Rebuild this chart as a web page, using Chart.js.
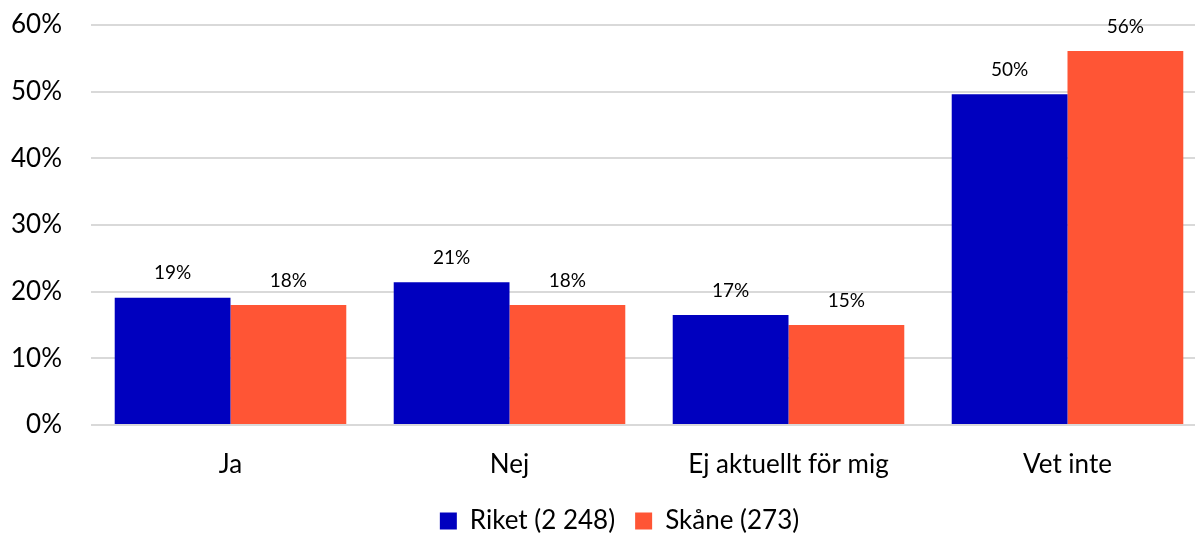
<!DOCTYPE html>
<html>
<head>
<meta charset="utf-8">
<script src="https://cdn.jsdelivr.net/npm/chart.js@4/dist/chart.umd.min.js"></script>
<style>
    html, body { margin: 0; padding: 0; background: #fff; }
    #wrap { width: 1195px; height: 535px; }
</style>
</head>
<body>
<div id="wrap"><canvas id="chart" width="1195" height="535"></canvas></div>
<script>
// Data
const categories = ['Ja', 'Nej', 'Ej aktuellt för mig', 'Vet inte'];
const riketValues = [19.1, 21.4, 16.5, 49.6];
const skaneValues = [18.0, 18.0, 15.0, 56.1];
const seriesNames = ['Riket (2 248)', 'Skåne (273)'];
const yTicks = [0, 10, 20, 30, 40, 50, 60];

const FONT = 'Lato, "Open Sans", sans-serif';

// Value labels above each bar
const barLabels = {
    id: 'barLabels',
    afterDatasetsDraw(chart) {
        const ctx = chart.ctx;
        ctx.save();
        ctx.font = '19px ' + FONT;
        ctx.fillStyle = '#000';
        ctx.textAlign = 'center';
        ctx.textBaseline = 'bottom';
        chart.data.datasets.forEach((ds, i) => {
            chart.getDatasetMeta(i).data.forEach((bar, j) => {
                ctx.fillText(Math.round(ds.data[j]) + '%', bar.x, bar.y - 15);
            });
        });
        ctx.restore();
    }
};

// Layout tweaks: legend a bit right/down, and the category axis
// runs slightly past the right edge like the cropped original
const layoutTweaks = {
    id: 'layoutTweaks',
    afterLayout(chart) {
        const lg = chart.legend;
        if (lg) {
            lg.left += 22;
            lg.right += 22;
            lg.top += 9;
            lg.bottom += 9;
        }
        const x = chart.scales.x;
        x.right += 12;
        x.width = x.right - x.left;
        x.configure();
    }
};

new Chart(document.getElementById('chart'), {
    type: 'bar',
    data: {
        labels: categories,
        datasets: [
            {
                label: seriesNames[0],
                data: riketValues,
                backgroundColor: '#0000BF',
                borderWidth: 0,
                categoryPercentage: 0.83,
                barPercentage: 1
            },
            {
                label: seriesNames[1],
                data: skaneValues,
                backgroundColor: '#FF5535',
                borderWidth: 0,
                categoryPercentage: 0.83,
                barPercentage: 1
            }
        ]
    },
    options: {
        responsive: false,
        animation: false,
        layout: { padding: { top: 25, left: 0, right: 0, bottom: 0 } },
        plugins: {
            tooltip: { enabled: false },
            legend: {
                position: 'bottom',
                labels: {
                    font: { family: FONT, size: 26 },
                    color: '#000',
                    boxWidth: 17,
                    boxHeight: 17,
                    padding: 20
                }
            }
        },
        scales: {
            x: {
                grid: { display: false, drawTicks: false },
                border: { display: false },
                ticks: {
                    font: { family: FONT, size: 26 },
                    color: '#000',
                    padding: 24
                },
                afterFit(s) { s.height = 54; }
            },
            y: {
                min: 0,
                max: 60,
                afterBuildTicks(s) { s.ticks = yTicks.map(v => ({ value: v })); },
                afterFit(s) {
                    s.width = 91;
                    s.paddingTop = 0;
                    s.paddingBottom = 0;
                },
                grid: { color: '#D9D9D9', lineWidth: 2, drawTicks: false },
                border: { display: false },
                ticks: {
                    font: { family: FONT, size: 26 },
                    color: '#000',
                    padding: 29,
                    callback: v => v + '%'
                }
            }
        }
    },
    plugins: [barLabels, layoutTweaks]
});
</script>
</body>
</html>
